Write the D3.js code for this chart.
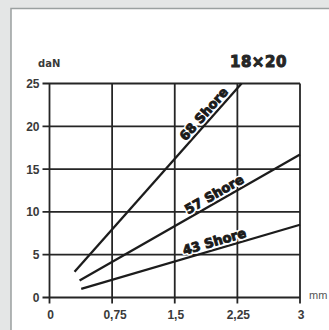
<!DOCTYPE html>
<html><head><meta charset="utf-8">
<script src="https://cdn.jsdelivr.net/npm/d3@7/dist/d3.min.js"></script>
<style>
html,body{margin:0;padding:0;background:#e4e6e6;}
svg{display:block;}
</style></head>
<body>
<svg id="c" width="329" height="330"></svg>
<script>
const xTicks = [0, 0.75, 1.5, 2.25, 3];
const xTickLabels = ["0", "0,75", "1,5", "2,25", "3"];
const yTicks = [0, 5, 10, 15, 20, 25];
const seriesNames = ["68 Shore", "57 Shore", "43 Shore"];
const seriesX = [[0.3, 2.3], [0.36, 3], [0.38, 3]];
const seriesY = [[3, 25], [2, 16.7], [1, 8.5]];
const labelAt = [1.92, 2.02, 2.0];
const title = "18×20";
const yUnit = "daN";
const xUnit = "mm";

const svg = d3.select("#c");
const x = d3.scaleLinear().domain([0, 3]).range([49.5, 300]);
const y = d3.scaleLinear().domain([0, 25]).range([297.5, 83.5]);

// panel
svg.append("rect").attr("x", 11).attr("y", 8.5).attr("width", 330).attr("height", 340)
  .attr("fill", "#ffffff").attr("stroke", "#9aa0a0").attr("stroke-width", 1.5);

const g = svg.append("g");
const gridColor = "#252525";
// horizontal grid (with left tick extension)
g.selectAll("line.h").data(yTicks).join("line")
  .attr("x1", x(0) - 7).attr("x2", x(3))
  .attr("y1", d => y(d)).attr("y2", d => y(d))
  .attr("stroke", gridColor).attr("stroke-width", 1.8);
// vertical grid (with bottom tick extension)
g.selectAll("line.v").data(xTicks).join("line")
  .attr("x1", d => x(d)).attr("x2", d => x(d))
  .attr("y1", y(25)).attr("y2", y(0) + 6)
  .attr("stroke", gridColor).attr("stroke-width", 1.8);

// tick labels
g.selectAll("text.yl").data(yTicks).join("text")
  .attr("x", x(0) - 10).attr("y", d => y(d) + 4.5)
  .attr("text-anchor", "end")
  .attr("font-family", "Liberation Sans, Arial, sans-serif").attr("font-size", 12).attr("font-weight", "bold")
  .attr("fill", "#3a3a3a").text(d => d);
g.selectAll("text.xl").data(xTicks).join("text")
  .attr("x", (d, i) => x(d) + (i === 1 ? 3 : 1)).attr("y", y(0) + 21)
  .attr("text-anchor", "middle")
  .attr("font-family", "Liberation Sans, Arial, sans-serif").attr("font-size", 12).attr("font-weight", "bold")
  .attr("fill", "#3a3a3a").text((d, i) => xTickLabels[i]);

// units and title
svg.append("text").attr("x", 38).attr("y", 67)
  .attr("font-family", "DejaVu Sans, sans-serif").attr("font-size", 10).attr("font-weight", "bold")
  .attr("fill", "#3a3a3a").text(yUnit);
svg.append("text").attr("x", 309).attr("y", 299)
  .attr("font-family", "Liberation Sans, Arial, sans-serif").attr("font-size", 11)
  .attr("fill", "#555").text(xUnit);
svg.append("text").attr("x", 230).attr("y", 67)
  .attr("font-family", "DejaVu Sans, sans-serif").attr("font-size", 15).attr("font-weight", "bold")
  .attr("letter-spacing", 0.5)
  .attr("fill", "#262626").attr("stroke", "#262626").attr("stroke-width", 1).text(title);

// series lines
const line = d3.line().x(d => x(d[0])).y(d => y(d[1]));
seriesNames.forEach((name, i) => {
  const pts = seriesX[i].map((v, j) => [v, seriesY[i][j]]);
  g.append("path").datum(pts).attr("d", line)
    .attr("fill", "none").attr("stroke", "#1c1c1c").attr("stroke-width", 2.3);
});

// labels along lines
seriesNames.forEach((name, i) => {
  const xs = seriesX[i], ys = seriesY[i];
  const px0 = x(xs[0]), py0 = y(ys[0]), px1 = x(xs[1]), py1 = y(ys[1]);
  const ang = Math.atan2(py1 - py0, px1 - px0) * 180 / Math.PI;
  const t = (labelAt[i] - xs[0]) / (xs[1] - xs[0]);
  const lx = x(labelAt[i]);
  const ly = y(ys[0] + t * (ys[1] - ys[0]));
  const lg = svg.append("g").attr("transform", `translate(${lx},${ly}) rotate(${ang})`);
  const common = s => s.attr("x", 0).attr("y", -3.5).attr("text-anchor", "middle")
    .attr("font-family", "DejaVu Sans, sans-serif").attr("font-size", 13).attr("font-weight", "bold")
    .text(name);
  common(lg.append("text")).attr("fill", "none").attr("stroke", "#fff").attr("stroke-width", 4)
    .attr("stroke-linejoin", "round");
  common(lg.append("text")).attr("fill", "#1a1a1a").attr("stroke", "#1a1a1a").attr("stroke-width", 0.9);
});
</script>
</body></html>
